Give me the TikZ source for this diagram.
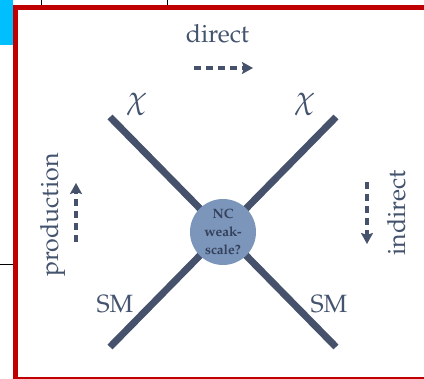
\documentclass[tikz,border=0pt]{standalone}
\usepackage[T1]{fontenc}
\usepackage{mathpazo}
\usetikzlibrary{arrows.meta}
\definecolor{legcol}{HTML}{46526C}
\definecolor{txtcol}{HTML}{44546E}
\definecolor{blobcol}{HTML}{7B95BB}
\definecolor{blobtxt}{HTML}{34405A}
\definecolor{framered}{HTML}{C00000}
\definecolor{cyanbar}{HTML}{00BFFF}
\tikzset{
  leg/.style={draw=legcol, line width=7pt},
  flowarrow/.style={draw=legcol, line width=3.5pt, dash pattern=on 7pt off 5pt,
    -{Stealth[length=11pt,width=12pt,inset=2pt]}},
  lbl/.style={text=txtcol, font=\fontsize{25}{29}\selectfont, inner sep=0pt},
  chilbl/.style={text=txtcol, font=\fontsize{32}{36}\selectfont, inner sep=0pt},
  blob/.style={circle, fill=blobcol, minimum size=66pt, inner sep=0pt,
    align=center, text=blobtxt, font=\fontsize{13.5}{18}\selectfont\bfseries}
}
\begin{document}
\begin{tikzpicture}[x=1pt,y=-1pt]
\useasboundingbox (0,0) rectangle (424,379);
\clip (0,0) rectangle (424,379);
% background remnants
\fill[cyanbar] (0,0) rectangle (13,45);
\draw[black, line width=1pt] (41,0) -- (41,5);
\draw[black, line width=1pt] (167,0) -- (167,5);
\draw[black, line width=1pt] (0,265) -- (13,265);
% frame (right side lies outside the picture)
\draw[framered, line width=5pt] (15.5,7.5) -- (440,7.5);
\draw[framered, line width=5pt] (15.5,5) -- (15.5,380);
\draw[framered, line width=5pt] (13,379.5) -- (440,379.5);
% legs
\coordinate (tl) at (110,117);
\coordinate (tr) at (336,117);
\coordinate (bl) at (110,347);
\coordinate (br) at (336,347);
\draw[leg] (tl) -- (br);
\draw[leg] (tr) -- (bl);
\node[blob] (nc) at (223,232) {NC\\weak-\\scale?};
% labels
\node[chilbl] (chil) at (137,104) {$\chi$};
\node[chilbl] (chir) at (305,104) {$\chi$};
\node[lbl, anchor=base] (sml) at (115,313) {SM};
\node[lbl, anchor=base] (smr) at (329,313) {SM};
\node[lbl, anchor=base] (dir) at (217.5,43) {direct};
\node[lbl, anchor=base, rotate=90] (prod) at (58,215) {production};
\node[lbl, anchor=base, rotate=90] (ind) at (405,213) {indirect};
% arrows
\coordinate (d0) at (194,68); \coordinate (d1) at (253,68);
\coordinate (p0) at (76,242); \coordinate (p1) at (76,183);
\coordinate (i0) at (367,182); \coordinate (i1) at (367,244);
\draw[flowarrow] (d0) -- (d1);
\draw[flowarrow] (p0) -- (p1);
\draw[flowarrow] (i0) -- (i1);
\end{tikzpicture}
\end{document}
